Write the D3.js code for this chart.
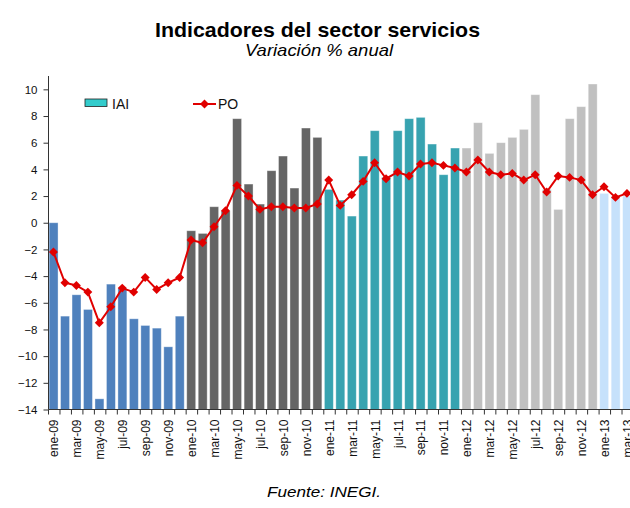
<!DOCTYPE html>
<html>
<head>
<meta charset="utf-8">
<script src="https://cdn.jsdelivr.net/npm/d3@7"></script>
<style>
  body { margin: 0; background: #fff; }
  svg { font-family: "Liberation Sans", Arial, sans-serif; }
</style>
</head>
<body>
<svg id="chart" width="630" height="508"></svg>
<script>
/* Indicadores del sector servicios — IAI bars + PO line */

const MONTHS = [
  "ene-09","feb-09","mar-09","abr-09","may-09","jun-09","jul-09","ago-09","sep-09","oct-09","nov-09","dic-09",
  "ene-10","feb-10","mar-10","abr-10","may-10","jun-10","jul-10","ago-10","sep-10","oct-10","nov-10","dic-10",
  "ene-11","feb-11","mar-11","abr-11","may-11","jun-11","jul-11","ago-11","sep-11","oct-11","nov-11","dic-11",
  "ene-12","feb-12","mar-12","abr-12","may-12","jun-12","jul-12","ago-12","sep-12","oct-12","nov-12","dic-12",
  "ene-13","feb-13","mar-13"
];

// IAI, variación % anual
const IAI = [
  0.0, -7.0, -5.4, -6.5, -13.2, -4.6, -4.9, -7.2, -7.7, -7.9, -9.3, -7.0,
  -0.6, -0.8, 1.2, 0.9, 7.8, 2.9, 1.4, 3.9, 5.0, 2.6, 7.1, 6.4,
  2.5, 1.7, 0.5, 5.0, 6.9, 3.4, 6.9, 7.8, 7.9, 5.9, 3.6, 5.6,
  5.6, 7.5, 5.2, 6.0, 6.4, 7.0, 9.6, 2.5, 1.0, 7.8, 8.7, 10.4,
  2.2, 2.0, 2.0
];

// PO, variación % anual
const PO = [
  -2.2, -4.5, -4.7, -5.2, -7.5, -6.3, -4.9, -5.2, -4.1, -5.0, -4.5, -4.1,
  -1.3, -1.5, -0.3, 0.9, 2.8, 2.0, 1.0, 1.2, 1.2, 1.1, 1.1, 1.4,
  3.2, 1.3, 2.1, 3.1, 4.5, 3.3, 3.8, 3.5, 4.4, 4.5, 4.3, 4.1,
  3.8, 4.7, 3.8, 3.6, 3.7, 3.2, 3.6, 2.3, 3.5, 3.4, 3.2, 2.1,
  2.7, 1.9, 2.2
];

const Y_TICKS = [-14, -12, -10, -8, -6, -4, -2, 0, 2, 4, 6, 8, 10];

// bar colour per year
const YEAR_COLORS = { "09": "#4f81bd", "10": "#656565", "11": "#37a3b0", "12": "#c0c0c0", "13": "#c6e1fb" };

const svg = d3.select("#chart");
const pLeft = 48.5, pRight = 633.5, pTop = 76, pBottom = 409.5;

const x = d3.scaleBand().domain(MONTHS).range([pLeft, pRight]).padding(0);
const y = d3.scaleLinear().domain([-14, 11]).range([pBottom, pTop]);

// ── Bars (Excel style: rise from the -14 axis) ──
svg.append("g")
  .selectAll("rect")
  .data(MONTHS)
  .join("rect")
    .attr("x", d => x(d) + 0.6)
    .attr("width", x.bandwidth() * 0.78)
    .attr("y", (d, i) => y(IAI[i]))
    .attr("height", (d, i) => y(-14) - y(IAI[i]))
    .attr("fill", d => YEAR_COLORS[d.slice(-2)])
    .attr("stroke", "rgba(255,255,255,0.45)")
    .attr("stroke-width", 0.8);

// ── Y axis ──
const yAxis = svg.append("g")
  .attr("transform", `translate(${pLeft},0)`)
  .call(d3.axisLeft(y).tickValues(Y_TICKS).tickSize(5).tickPadding(6));
yAxis.select(".domain").attr("d", `M0,${pTop}V${pBottom}`).attr("stroke", "#333");
yAxis.selectAll(".tick line").attr("stroke", "#333");
yAxis.selectAll("text")
  .attr("font-family", "Liberation Sans, Arial, sans-serif")
  .attr("font-size", 11.5)
  .attr("fill", "#111");

// ── X axis: baseline, boundary ticks, rotated labels ──
svg.append("line")
  .attr("x1", pLeft).attr("x2", pRight)
  .attr("y1", pBottom).attr("y2", pBottom)
  .attr("stroke", "#333");

svg.append("g")
  .selectAll("line")
  .data(MONTHS)
  .join("line")
    .attr("x1", d => x(d)).attr("x2", d => x(d))
    .attr("y1", pBottom).attr("y2", pBottom + 5)
    .attr("stroke", "#333");

svg.append("g")
  .selectAll("text")
  .data(MONTHS.filter((d, i) => i % 2 === 0))
  .join("text")
    .attr("transform", d => `translate(${x(d) + x.bandwidth() / 2},${pBottom + 10}) rotate(-90)`)
    .attr("text-anchor", "end")
    .attr("dy", "0.35em")
    .attr("font-size", 12)
    .attr("fill", "#111")
    .text(d => d);

// ── PO line + diamond markers ──
const cx = d => x(d) + x.bandwidth() / 2 - 0.8;

svg.append("path")
  .datum(MONTHS)
  .attr("fill", "none")
  .attr("stroke", "#e00000")
  .attr("stroke-width", 2)
  .attr("d", d3.line().x(cx).y((d, i) => y(PO[i])));

const diamond = d3.symbol(d3.symbolSquare, 40)();
svg.append("g")
  .selectAll("path")
  .data(MONTHS)
  .join("path")
    .attr("d", diamond)
    .attr("transform", (d, i) => `translate(${cx(d)},${y(PO[i])}) rotate(45)`)
    .attr("fill", "#e00000");

// ── Legend ──
const lg = svg.append("g");
lg.append("rect")
  .attr("x", 85).attr("y", 99).attr("width", 22).attr("height", 7.5)
  .attr("fill", "#33cccc").attr("stroke", "#222").attr("stroke-width", 0.8);
lg.append("text").attr("x", 112).attr("y", 109).attr("font-size", 14).attr("fill", "#111").text("IAI");
lg.append("line")
  .attr("x1", 193).attr("x2", 216).attr("y1", 104).attr("y2", 104)
  .attr("stroke", "#e00000").attr("stroke-width", 2);
lg.append("path")
  .attr("d", diamond)
  .attr("transform", "translate(204.5,104) rotate(45)")
  .attr("fill", "#e00000");
lg.append("text").attr("x", 218).attr("y", 109).attr("font-size", 14).attr("fill", "#111").text("PO");

// ── Titles ──
svg.append("text")
  .attr("x", 317.5).attr("y", 36.5)
  .attr("text-anchor", "middle")
  .attr("font-size", 21).attr("font-weight", "bold")
  .attr("textLength", 325).attr("lengthAdjust", "spacingAndGlyphs")
  .text("Indicadores del sector servicios");

svg.append("text")
  .attr("x", 319).attr("y", 56.3)
  .attr("text-anchor", "middle")
  .attr("font-size", 16.5).attr("font-style", "italic")
  .attr("textLength", 148).attr("lengthAdjust", "spacingAndGlyphs")
  .text("Variación % anual");

svg.append("text")
  .attr("x", 324).attr("y", 496.5)
  .attr("text-anchor", "middle")
  .attr("font-size", 14).attr("font-style", "italic")
  .attr("textLength", 114).attr("lengthAdjust", "spacingAndGlyphs")
  .text("Fuente: INEGI.");
</script>
</body>
</html>
